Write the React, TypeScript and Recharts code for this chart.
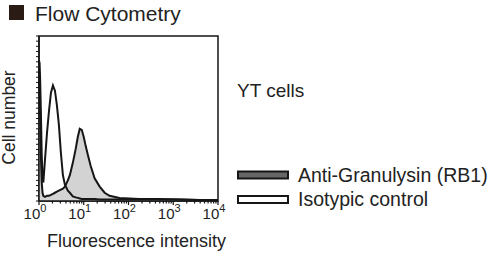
import { Area, ComposedChart, Label, Legend, ReferenceArea, XAxis, YAxis } from "recharts";

// fluorescence channel (log scale) and cell counts
const intensity = [
  1, 1.03, 1.06, 1.1, 1.15, 1.2, 1.25, 1.36, 1.51, 1.67, 1.85, 2.05, 2.27, 2.51, 2.78, 3.08, 3.42, 3.78, 4.41, 4.89,
  5.7, 6.64, 7.36, 8.15, 9.03, 10, 11.1, 12.3, 14.3, 17.5, 22.7, 29.3, 37.8, 63, 175, 489, 1360, 3780, 10000,
];
const rb1Counts = [
  128, 112, 85, 45, 18, 8, 5, 4, 5, 5, 6, 7, 8, 9, 10, 11, 12, 14, 20, 25, 37, 51, 62, 70, 69, 62, 53, 45, 34, 22,
  14, 8, 5, 3, 2, 2, 1.5, 1, 1,
];
const isotypeCounts = [
  136, 134, 118, 88, 45, 22, 18, 40, 66, 87, 105, 112, 107, 93, 74, 47, 25, 16, 10, 8, 4.5, 3.5, 3, 2.5, 2, 2, 2, 2,
  2, 2, 1.5, 1.5, 1.5, 1.5, 1.5, 1.5, 1.5, 1, 1,
];

const seriesNames = { rb1: "Anti-Granulysin (RB1)", iso: "Isotypic control" };
const legendFills = { rb1: "#666666", iso: "#ffffff" };

const decadeTicks = [1, 10, 100, 1000, 10000];
const minorTicks = [
  2, 3, 4, 5, 6, 7, 8, 9, 20, 30, 40, 50, 60, 70, 80, 90, 200, 300, 400, 500, 600, 700, 800, 900, 2000, 3000, 4000,
  5000, 6000, 7000, 8000, 9000,
];
const countTicks = Array.from({ length: 33 }, (_, i) => i * 5);

const data = intensity.map((x, i) => ({ x, rb1: rb1Counts[i], iso: isotypeCounts[i] }));

const font = "'Liberation Sans', Arial, Helvetica, sans-serif";
const ink = "#161616";

function LogTick({ x, y, payload }: any) {
  const lg = Math.log10(payload.value);
  const exp = Math.round(lg);
  const major = Math.abs(lg - exp) < 1e-6;
  return (
    <g>
      <line x1={x} y1={y} x2={x} y2={y + (major ? 4 : 2.5)} stroke={ink} strokeWidth={1.2} />
      {major && (
        <text x={x - 4} y={y + 18} textAnchor="middle" fontSize={15} fontFamily={font} fill="#222">
          10
          <tspan dy={-7} fontSize={11}>
            {exp}
          </tspan>
        </text>
      )}
    </g>
  );
}

function HistogramLegend({ payload }: any) {
  const order = ["rb1", "iso"];
  const items = order
    .map((k) => (payload || []).find((p: any) => p.dataKey === k))
    .filter(Boolean);
  return (
    <svg width={500} height={255} style={{ display: "block" }}>
      {items.map((entry: any, i: number) => (
        <g key={entry.dataKey}>
          <rect
            x={238}
            y={171.5 + i * 24.5}
            width={50}
            height={7}
            fill={legendFills[entry.dataKey as "rb1" | "iso"]}
            stroke={ink}
            strokeWidth={2}
          />
          <text x={298} y={182 + i * 24} fontSize={19.5} fontFamily={font} fill="#222">
            {entry.value}
          </text>
        </g>
      ))}
    </svg>
  );
}

export default function App() {
  return (
    <div style={{ position: "absolute", left: 0, top: 0, width: 500, height: 255, background: "#fff" }}>
      <ComposedChart width={500} height={255} data={data} margin={{ top: 36, right: 282, bottom: 24, left: 29 }}>
        <XAxis
          dataKey="x"
          type="number"
          scale="log"
          domain={[1, 10000]}
          ticks={[...decadeTicks, ...minorTicks].sort((a, b) => a - b)}
          interval={0}
          tickSize={0}
          tickMargin={0}
          tick={<LogTick />}
          axisLine={{ stroke: ink, strokeWidth: 1.5 }}
          height={30}
        >
          <Label
            content={({ viewBox }: any) => (
              <text x={viewBox.x + viewBox.width / 2 + 8} y={247} textAnchor="middle" fontSize={18} fontFamily={font} fill="#222">
                Fluorescence intensity
              </text>
            )}
          />
        </XAxis>
        <YAxis
          type="number"
          domain={[0, 160]}
          ticks={countTicks}
          interval={0}
          tickSize={3}
          tick={() => <g />}
          tickLine={{ stroke: ink, strokeWidth: 1 }}
          axisLine={{ stroke: ink, strokeWidth: 1.5 }}
          width={10}
        >
          <Label
            content={({ viewBox }: any) => (
              <text
                x={15}
                y={viewBox.y + viewBox.height / 2 - 1}
                transform={`rotate(-90, 15, ${viewBox.y + viewBox.height / 2 - 1})`}
                textAnchor="middle"
                fontSize={17.5}
                fontFamily={font}
                fill="#222"
              >
                Cell number
              </text>
            )}
          />
        </YAxis>
        <ReferenceArea x1={1} x2={10000} y1={0} y2={160} fill="none" stroke={ink} strokeWidth={1.5} />
        <Area
          type="linear"
          dataKey="rb1"
          name={seriesNames.rb1}
          stroke={ink}
          strokeWidth={2}
          fill="#d3d3d3"
          fillOpacity={1}
          isAnimationActive={false}
        />
        <Area
          type="linear"
          dataKey="iso"
          name={seriesNames.iso}
          stroke={ink}
          strokeWidth={2}
          fill="none"
          isAnimationActive={false}
        />
        <Legend
          layout="vertical"
          align="center"
          verticalAlign="middle"
          content={<HistogramLegend />}
          wrapperStyle={{ left: 0, top: 0, width: 500, height: 255, pointerEvents: "none" }}
        />
      </ComposedChart>
      <svg width={500} height={255} style={{ position: "absolute", left: 0, top: 0, pointerEvents: "none" }}>
        <rect x={9} y={5} width={15} height={15} fill="#2a1b14" />
        <text x={35} y={21} fontSize={21} fontFamily={font} fill="#222">
          Flow Cytometry
        </text>
        <text x={237} y={97} fontSize={19} fontFamily={font} fill="#222">
          YT cells
        </text>
      </svg>
    </div>
  );
}
